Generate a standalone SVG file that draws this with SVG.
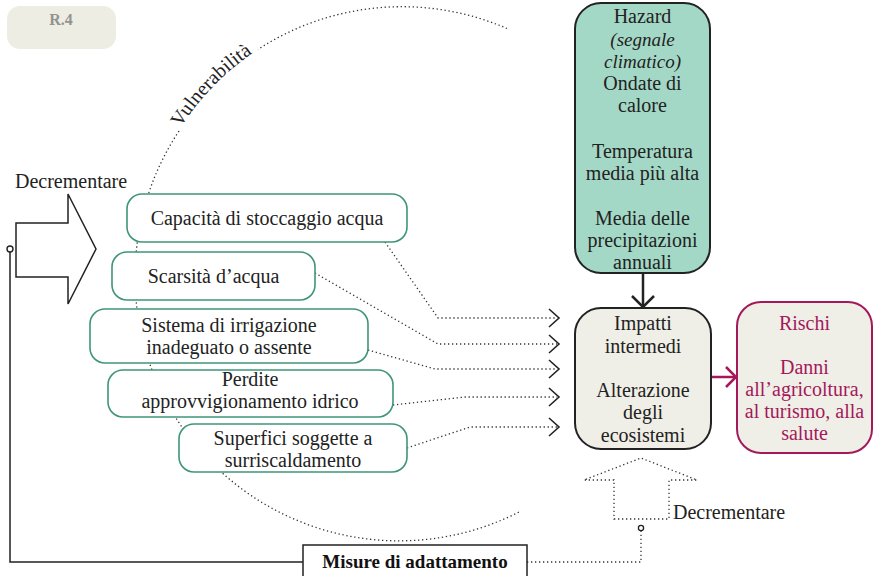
<svg xmlns="http://www.w3.org/2000/svg" width="874" height="576" viewBox="0 0 874 576">
  <style>
    text { font-family: "Liberation Serif", "Times New Roman", serif; font-size: 20px; fill: #222; }
    .c { text-anchor: middle; }
    .it { font-style: italic; font-size: 19px; }
    .risk { fill: #a3195b; }
    .badge { font-weight: bold; font-size: 16px; fill: #939391; }
    .bold { font-weight: bold; font-size: 19px; fill: #111; }
    .vbox { fill: #ffffff; stroke: #3f957a; stroke-width: 1.6; }
    .dot { fill: none; stroke: #333; stroke-width: 1.3; stroke-dasharray: 1.3 2.7; }
    .head { fill: none; stroke: #222; stroke-width: 1.6; stroke-linejoin: miter; }
    .solid { fill: none; stroke: #222; stroke-width: 1.5; }
  </style>

  <!-- Badge -->
  <g id="badge">
    <rect x="7" y="6" width="109" height="43" rx="13" fill="#eeede4"/>
    <text class="badge c" x="61" y="25">R.4</text>
  </g>

  <!-- Vulnerability arc -->
  <g id="vulnerability-arc">
    <path class="dot" d="M507,28.5 A264,264 0 0 0 258,49.4"/>
    <path class="dot" d="M179,131 A264,264 0 0 0 521,511"/>
    <path id="vulnPath" d="M139,270 A264,264 0 0 1 403,6" fill="none"/>
    <text><textPath href="#vulnPath" startOffset="150">Vulnerabilità</textPath></text>
  </g>

  <!-- Left hollow arrow -->
  <g id="decrease-left">
    <path class="solid" d="M16,223 L68,223 L68,194 L96,249 L68,304 L68,277 L16,277 Z"/>
    <text x="15" y="188">Decrementare</text>
  </g>

  <!-- Connectors -->
  <g id="connectors">
    <!-- adaptation feedback -->
    <path class="solid" d="M10,252 L10,562 L303,562"/>
    <circle cx="10" cy="249" r="3" fill="#fff" stroke="#222" stroke-width="1.4"/>
    <path class="dot" d="M527,562 L641,562 L641,531"/>
    <circle cx="641" cy="528" r="2.6" fill="#fff" stroke="#222" stroke-width="1.3"/>

    <!-- vulnerability factors to intermediate impacts -->
    <path class="dot" d="M385,242 L438,318 L557,318"/>
    <path class="head" d="M549,309 L559,318 L549,327"/>
    <path class="dot" d="M315,273 L438,344 L557,344"/>
    <path class="head" d="M549,335 L559,344 L549,353"/>
    <path class="dot" d="M368,350 L435,369 L557,369"/>
    <path class="head" d="M549,360 L559,369 L549,378"/>
    <path class="dot" d="M393,405 L465,397 L557,397"/>
    <path class="head" d="M549,388 L559,397 L549,406"/>
    <path class="dot" d="M407,448 L470,427 L557,427"/>
    <path class="head" d="M549,418 L559,427 L549,436"/>

    <!-- hazard to impacts -->
    <path d="M643,273 L643,306" stroke="#222" stroke-width="2.5" fill="none"/>
    <path d="M632,296 L643,307 L654,296" stroke="#222" stroke-width="2.5" fill="none"/>

    <!-- impacts to risks -->
    <path d="M711,377 L735,377" stroke="#a3195b" stroke-width="2.5" fill="none"/>
    <path d="M726,367 L736,377 L726,387" stroke="#a3195b" stroke-width="2.5" fill="none"/>

    <!-- dotted hollow up arrow -->
    <path class="dot" d="M614,519 L669,519 L669,480 L697,480 L641,458 L584,480 L614,480 Z"/>
  </g>
  <text x="673" y="519">Decrementare</text>

  <!-- Vulnerability factor nodes -->
  <g id="n-storage">
    <rect class="vbox" x="127" y="194" width="280" height="48" rx="15"/>
    <text class="c" x="267" y="225">Capacità di stoccaggio acqua</text>
  </g>
  <g id="n-scarcity">
    <rect class="vbox" x="112" y="252" width="203" height="48" rx="15"/>
    <text class="c" x="213.5" y="283">Scarsità d’acqua</text>
  </g>
  <g id="n-irrigation">
    <rect class="vbox" x="90" y="309" width="278" height="54" rx="15"/>
    <text class="c" x="229" y="332">Sistema di irrigazione</text>
    <text class="c" x="229" y="354">inadeguato o assente</text>
  </g>
  <g id="n-losses">
    <rect class="vbox" x="108" y="370" width="285" height="47" rx="15"/>
    <text class="c" x="250" y="386">Perdite</text>
    <text class="c" x="250" y="408">approvvigionamento idrico</text>
  </g>
  <g id="n-surfaces">
    <rect class="vbox" x="179" y="424" width="228" height="48" rx="15"/>
    <text class="c" x="293" y="445">Superfici soggette a</text>
    <text class="c" x="293" y="467">surriscaldamento</text>
  </g>

  <!-- Hazard node -->
  <g id="n-hazard">
    <rect x="575" y="3" width="135" height="270" rx="26" fill="#a4d8c6" stroke="#222" stroke-width="2"/>
    <text class="c" x="642.5" y="23">Hazard</text>
    <text class="c it" x="642.5" y="46">(segnale</text>
    <text class="c it" x="642.5" y="68">climatico)</text>
    <text class="c" x="642.5" y="90">Ondate di</text>
    <text class="c" x="642.5" y="112">calore</text>
    <text class="c" x="642.5" y="158">Temperatura</text>
    <text class="c" x="642.5" y="180">media più alta</text>
    <text class="c" x="642.5" y="225">Media delle</text>
    <text class="c" x="642.5" y="247">precipitazioni</text>
    <text class="c" x="642.5" y="269">annuali</text>
  </g>

  <!-- Intermediate impacts node -->
  <g id="n-impacts">
    <rect x="575" y="308" width="136" height="141" rx="26" fill="#f0efe7" stroke="#222" stroke-width="2"/>
    <text class="c" x="643" y="330">Impatti</text>
    <text class="c" x="643" y="353">intermedi</text>
    <text class="c" x="643" y="397">Alterazione</text>
    <text class="c" x="643" y="419">degli</text>
    <text class="c" x="643" y="442">ecosistemi</text>
  </g>

  <!-- Risks node -->
  <g id="n-risks">
    <rect x="737" y="302" width="135" height="151" rx="24" fill="#f0efe7" stroke="#a3195b" stroke-width="2"/>
    <text class="c risk" x="804.5" y="330">Rischi</text>
    <text class="c risk" x="804.5" y="374">Danni</text>
    <text class="c risk" x="804.5" y="396">all’agricoltura,</text>
    <text class="c risk" x="804.5" y="418">al turismo, alla</text>
    <text class="c risk" x="804.5" y="440">salute</text>
  </g>

  <!-- Adaptation measures node -->
  <g id="n-adaptation">
    <rect x="303" y="545" width="224" height="40" fill="#fff" stroke="#222" stroke-width="1.5"/>
    <text class="c bold" x="415" y="568">Misure di adattamento</text>
  </g>
</svg>
